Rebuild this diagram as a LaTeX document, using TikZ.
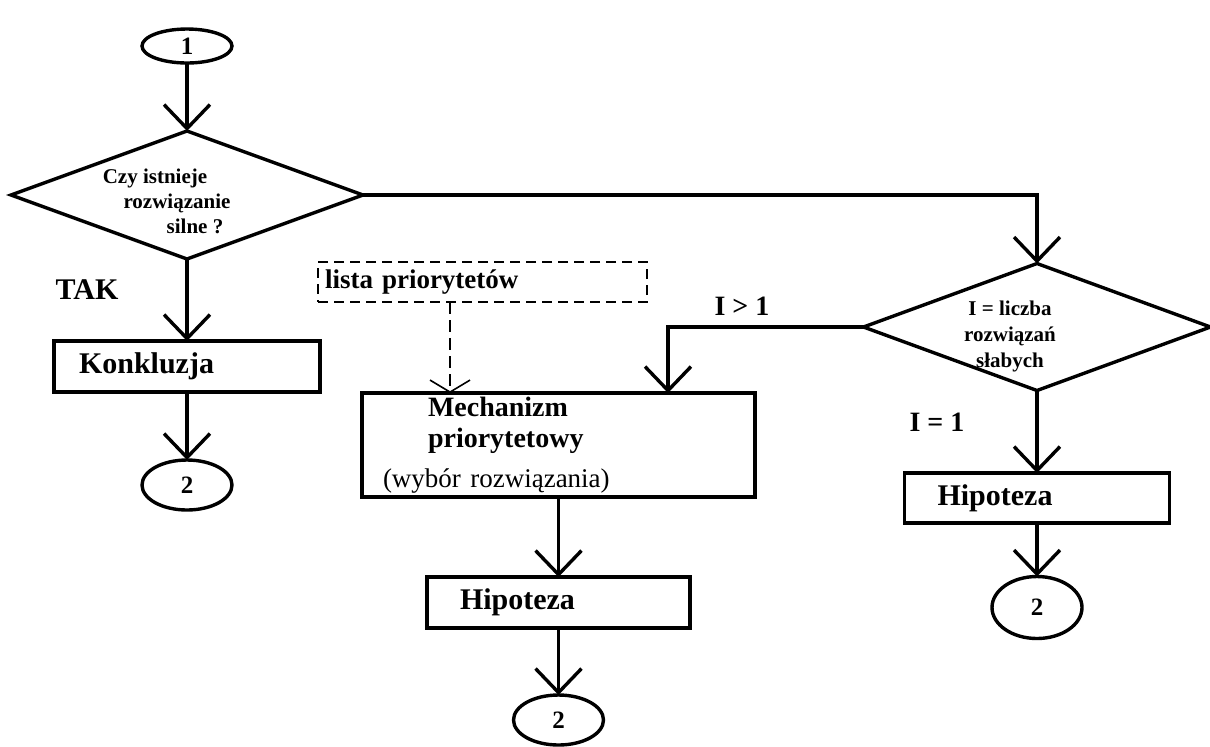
\documentclass[tikz,border=0pt]{standalone}
\usepackage{fontspec}
\setmainfont{Liberation Serif}
\usetikzlibrary{shapes.geometric,arrows.meta}

\begin{document}
\begin{tikzpicture}[x=0.5pt,y=-0.5pt,inner sep=0pt,outer sep=0pt,line width=1.7pt,
>={Straight Barb[length=12pt,width=23pt]},
terminal/.style={draw,ellipse,minimum width=45pt,minimum height=25pt,font=\fontsize{12.5}{14}\selectfont\bfseries},
decision/.style={draw,diamond,minimum width=176pt,minimum height=64pt},
qtext/.style={align=center,font=\fontsize{10.5}{12.5}\selectfont\bfseries},
flowbox/.style={draw,rectangle,align=left,minimum height=25.5pt,font=\fontsize{15}{17}\selectfont\bfseries},
listbox/.style={draw,rectangle,dashed,dash pattern=on 5pt off 3pt,line width=0.8pt,minimum height=20pt,
  inner xsep=3.5pt,text width=157.5pt,align=left,font=\fontsize{13.5}{15}\selectfont\bfseries},
branch/.style={font=\fontsize{15}{17}\selectfont\bfseries}]

\useasboundingbox (0,0) rectangle (1210,746);

% strong solution test
\draw (187,46) node[terminal,minimum height=17pt] (start) {1};
\draw (187,195) node[decision] (q1) {};
\draw (177,201) node[qtext] (q1txt) {Czy istnieje\hspace*{22pt}\mbox{}\\rozwiązanie\\\mbox{}\hspace*{18pt}silne ?};
\draw (87,290) node[branch] (tak) {TAK};
\draw (187,366.5) node[flowbox,inner xsep=12.5pt,text width=108pt] (konkl) {Konkluzja};
\draw (187,485) node[terminal] (end1) {2};

% priority list and mechanism
\draw (482.5,282) node[listbox] (lista) {lista priorytetów};
\draw (558.5,445) node[flowbox,minimum height=52pt,inner xsep=10.5pt,text width=175.5pt,
  font=\fontsize{14}{15.5}\selectfont\bfseries] (mech)
  {\hspace*{22.5pt}Mechanizm\\\hspace*{22.5pt}priorytetowy\\[4.5pt]{\fontsize{13.5}{15.5}\selectfont\mdseries(wybór rozwiązania)}};
\draw (558.5,602.5) node[flowbox,inner xsep=16.5pt,text width=98.5pt] (hip1) {Hipoteza};
\draw (558.5,720) node[terminal] (end2) {2};

% weak solutions
\draw (1037,327) node[decision,minimum width=173.5pt,minimum height=63.5pt] (q2) {};
\draw (1010,336) node[qtext,font=\fontsize{10.5}{13}\selectfont\bfseries] (q2txt) {I = liczba\\rozwiązań\\słabych};
\draw (742,306) node[branch,font=\fontsize{14}{16}\selectfont\bfseries] (more) {I > 1};
\draw (937,422) node[branch,font=\fontsize{14}{16}\selectfont\bfseries] (one) {I = 1};
\draw (1037,498) node[flowbox,inner xsep=16.5pt,text width=99.5pt,minimum height=25pt] (hip2) {Hipoteza};
\draw (1037,607.5) node[terminal,minimum height=31pt] (end3) {2};

% connectors
\draw[->] (start) -- (q1);
\draw[->] (q1) -- (konkl);
\draw[->] (konkl) -- (end1);
\draw[->] (q1.east) -| (q2.north);
\draw[->] (q2.west) -| ([xshift=54.75pt]mech.north);
\draw[dashed,line width=0.8pt,dash pattern=on 6pt off 3pt,-{Straight Barb[length=6pt,width=20pt]}]
  ([xshift=-16.25pt]lista.south) -- ([xshift=-54.25pt]mech.north);
\draw[->] (mech) -- (hip1);
\draw[->] (hip1) -- (end2);
\draw[->] (q2) -- (hip2);
\draw[->] (hip2) -- (end3);
\end{tikzpicture}
\end{document}
